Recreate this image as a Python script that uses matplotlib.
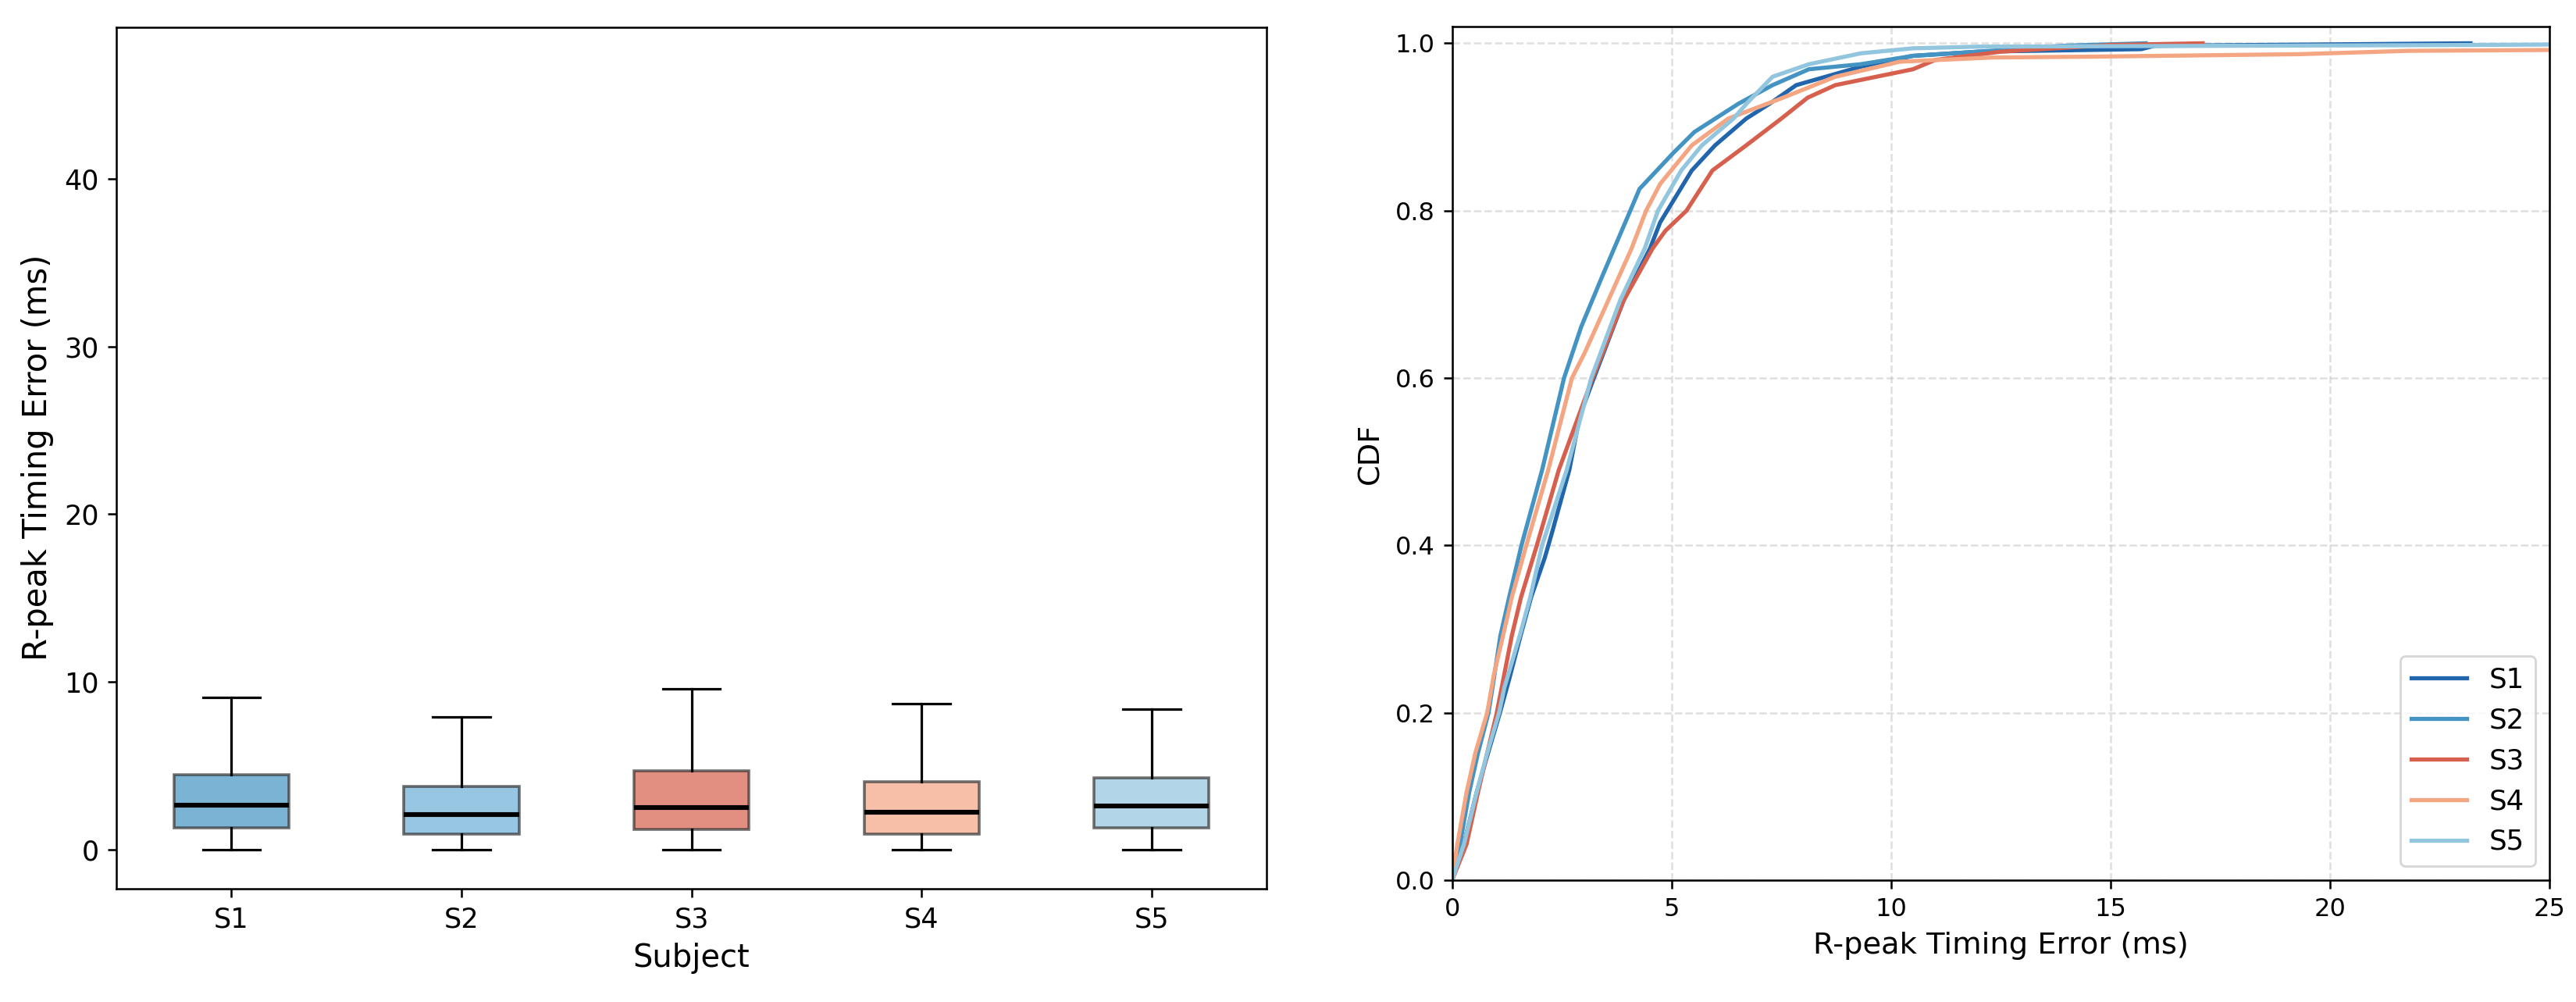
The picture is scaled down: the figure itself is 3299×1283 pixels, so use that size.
import matplotlib
matplotlib.use('Agg')
import matplotlib.pyplot as plt

plt.rcParams['axes.linewidth'] = 0.92
plt.rcParams['xtick.major.width'] = 0.92
plt.rcParams['ytick.major.width'] = 0.92
plt.rcParams['xtick.major.size'] = 4
plt.rcParams['ytick.major.size'] = 4
plt.rcParams['xtick.major.pad'] = 4
plt.rcParams['ytick.major.pad'] = 4
plt.rcParams['axes.labelpad'] = 4.6
plt.rcParams['grid.linewidth'] = 0.92

# subjects and box statistics (ms)
subjects = ['S1', 'S2', 'S3', 'S4', 'S5']
whislo = [0.0, 0.0, 0.0, 0.0, 0.0]
q1 = [1.3, 0.95, 1.2, 0.95, 1.3]
med = [2.65, 2.1, 2.5, 2.25, 2.6]
q3 = [4.45, 3.75, 4.7, 4.05, 4.3]
whishi = [9.1, 7.9, 9.6, 8.7, 8.4]

box_colors = ['#4393c3', '#6baed6', '#d6604d', '#f4a582', '#92c5de']
line_colors = ['#2166ac', '#4393c3', '#d6604d', '#f4a582', '#92c5de']

# empirical CDF curves: error (ms) vs cumulative fraction
s1_x = [0, 0.30, 0.56, 0.82, 1.09, 1.31, 1.56, 1.80, 2.11, 2.28, 2.67, 2.91, 3.23, 3.91,
        4.51, 4.74, 5.10, 5.46, 5.99, 6.70, 7.24, 7.84, 9.31, 10.5, 12.0, 15.7, 16.0, 23.2]
s1_y = [0, 0.05, 0.105, 0.152, 0.20, 0.242, 0.292, 0.338, 0.385, 0.416, 0.49, 0.555, 0.60,
        0.693, 0.755, 0.786, 0.817, 0.848, 0.878, 0.91, 0.928, 0.95, 0.972, 0.985, 0.99,
        0.993, 0.997, 1.0]

s2_x = [0, 0.18, 0.39, 0.59, 0.83, 0.92, 1.10, 1.30, 1.58, 2.05, 2.55, 2.94, 3.44, 4.06,
        4.27, 5.04, 5.52, 6.53, 7.30, 8.13, 9.31, 10.5, 12.0, 13.9, 15.8]
s2_y = [0, 0.043, 0.105, 0.152, 0.20, 0.23, 0.292, 0.338, 0.40, 0.49, 0.60, 0.661, 0.724,
        0.80, 0.826, 0.869, 0.894, 0.928, 0.95, 0.969, 0.975, 0.985, 0.99, 0.997, 1.0]

s3_x = [0, 0.33, 0.59, 0.80, 1.01, 1.13, 1.36, 1.57, 1.93, 2.43, 3.20, 3.91, 4.57, 4.86,
        5.34, 5.93, 6.70, 7.50, 8.10, 8.73, 10.5, 11.0, 12.5, 15.0, 17.1]
s3_y = [0, 0.043, 0.105, 0.152, 0.198, 0.23, 0.292, 0.338, 0.40, 0.49, 0.60, 0.693, 0.755,
        0.776, 0.80, 0.848, 0.878, 0.91, 0.935, 0.95, 0.969, 0.98, 0.99, 0.998, 1.0]

s4_x = [0, 0.12, 0.33, 0.53, 0.80, 0.95, 1.16, 1.36, 1.69, 2.19, 2.73, 3.02, 3.56, 4.09,
        4.42, 4.74, 5.46, 6.29, 7.54, 8.73, 10.2, 12.3, 14.5, 19.3, 21.8, 25.0, 40.0, 46.7]
s4_y = [0, 0.043, 0.105, 0.152, 0.20, 0.245, 0.292, 0.338, 0.40, 0.49, 0.60, 0.63, 0.693,
        0.755, 0.80, 0.832, 0.878, 0.91, 0.935, 0.96, 0.978, 0.983, 0.984, 0.987, 0.991,
        0.992, 0.995, 1.0]

s5_x = [0, 0.27, 0.56, 0.80, 1.07, 1.19, 1.54, 1.78, 2.05, 2.61, 3.17, 3.83, 4.39, 4.69,
        5.22, 5.69, 6.41, 6.71, 7.30, 8.13, 9.31, 10.5, 12.0, 23.3, 30.0]
s5_y = [0, 0.043, 0.105, 0.152, 0.20, 0.23, 0.292, 0.338, 0.40, 0.49, 0.60, 0.693, 0.755,
        0.80, 0.848, 0.878, 0.91, 0.928, 0.96, 0.975, 0.988, 0.994, 0.996, 0.998, 1.0]

cdf_x = [s1_x, s2_x, s3_x, s4_x, s5_x]
cdf_y = [s1_y, s2_y, s3_y, s4_y, s5_y]

fig = plt.figure(figsize=(16.495, 6.415), dpi=200)
ax1 = fig.add_axes([0.0452, 0.1130, 0.4465, 0.8601])
ax2 = fig.add_axes([0.5637, 0.1216, 0.4260, 0.8519])

# Left: box plot
stats = []
for i, s in enumerate(subjects):
    stats.append({'label': s, 'whislo': whislo[i], 'q1': q1[i], 'med': med[i],
                  'q3': q3[i], 'whishi': whishi[i]})

bp = ax1.bxp(stats, widths=0.5, patch_artist=True, showfliers=False,
             medianprops=dict(color='black', linewidth=2.2),
             whiskerprops=dict(color='black', linewidth=1.15),
             capprops=dict(color='black', linewidth=1.15),
             boxprops=dict(edgecolor='#333333', linewidth=1.3))
for patch, c in zip(bp['boxes'], box_colors):
    patch.set_facecolor(c)
    patch.set_alpha(0.7)
    patch.set_edgecolor((0.2, 0.2, 0.2, 1.0))

ax1.set_ylim(-2.33, 49.05)
ax1.set_xlabel('Subject', fontsize=14.4)
ax1.set_ylabel('R-peak Timing Error (ms)', fontsize=15)
ax1.tick_params(labelsize=12.6)

# Right: CDF
for i, s in enumerate(subjects):
    ax2.plot(cdf_x[i], cdf_y[i], color=line_colors[i], linewidth=1.9, label=s)

ax2.set_xlim(0, 25)
ax2.set_ylim(0, 1.02)
ax2.set_xlabel('R-peak Timing Error (ms)', fontsize=13.8)
ax2.set_ylabel('CDF', fontsize=13.8)
ax2.tick_params(labelsize=11.5)
ax2.grid(True, linestyle='--', alpha=0.4)
ax2.legend(loc='lower right', fontsize=12.8)

fig.savefig('out.png', dpi=200)
